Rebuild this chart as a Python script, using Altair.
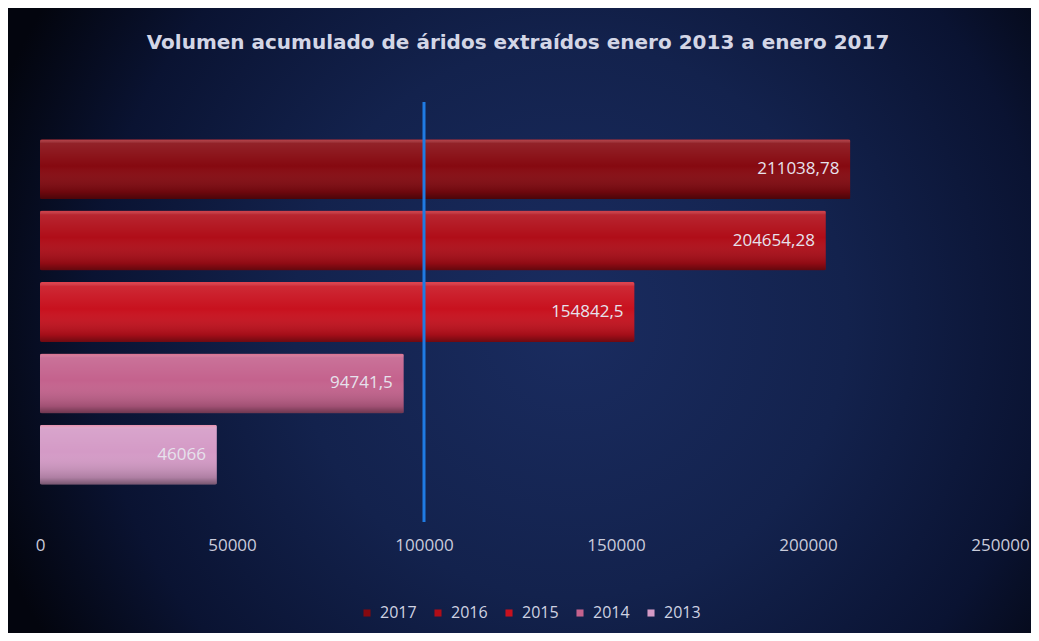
import altair as alt
import pandas as pd

# ---- data ----
YEARS = ["2017", "2016", "2015", "2014", "2013"]
VOLUMES = [211038.78, 204654.28, 154842.5, 94741.5, 46066]
BAR_COLORS = ["#860910", "#b00d18", "#c8111e", "#c4628d", "#d49ac6"]
X_TICKS = [0, 50000, 100000, 150000, 200000, 250000]
REF_LINE = [100000]
TITLE = "Volumen acumulado de áridos extraídos enero 2013 a enero 2017"

labels = [str(v).replace(".", ",") for v in VOLUMES]
df = pd.DataFrame({"year": YEARS, "vol": VOLUMES, "label": labels})

W, H = 960, 420
PAD = {"left": 32, "top": 94, "right": 31, "bottom": 111}

bg = alt.Chart(alt.Data(values=[{}])).mark_rect(
    fill=alt.RadialGradient(
        gradient="radial", x1=0.55, y1=0.5, r1=0, x2=0.55, y2=0.5, r2=0.6,
        stops=[
            alt.GradientStop(offset=0, color="#1a2c60"),
            alt.GradientStop(offset=0.45, color="#13224d"),
            alt.GradientStop(offset=0.78, color="#0a1332"),
            alt.GradientStop(offset=1, color="#03050e"),
        ],
    )
).encode(
    x=alt.value(-PAD["left"]), x2=alt.value(W + PAD["right"]),
    y=alt.value(-PAD["top"]), y2=alt.value(H + PAD["bottom"]),
)

title = alt.Chart(alt.Data(values=[{"t": TITLE}])).mark_text(
    font="DejaVu Sans", fontSize=20, fontWeight="bold", color="#d3d6e6",
    align="center", baseline="alphabetic",
).encode(text="t:N", x=alt.value(W / 2 - 2), y=alt.value(-53))

y_enc = alt.Y("year:N", sort=YEARS, axis=None,
              scale=alt.Scale(paddingInner=0.16, paddingOuter=0.52))
x_enc = alt.X("vol:Q", title=None,
              scale=alt.Scale(domain=[0, 250000], nice=False),
              axis=alt.Axis(values=X_TICKS, format="d", grid=False, domain=False,
                            ticks=False, labelColor="#c9cbdb", labelFontSize=17,
                            labelFont="Open Sans", labelPadding=15, labelFlush=False,
                            zindex=2))

bars = alt.Chart(df).mark_bar(cornerRadius=2).encode(
    x=x_enc, y=y_enc,
    color=alt.Color("year:N", sort=YEARS,
                    scale=alt.Scale(domain=YEARS, range=BAR_COLORS),
                    legend=alt.Legend(title=None, orient="none", direction="horizontal",
                                      legendX=319, legendY=503,
                                      symbolType="square", symbolSize=50,
                                      labelColor="#cfd2e2", labelFontSize=16,
                                      labelFont="Open Sans", columnPadding=13,
                                      labelOffset=5, zindex=2)),
)

gloss = alt.Chart(df).mark_bar(
    cornerRadius=2,
    fill=alt.LinearGradient(
        gradient="linear", x1=0, y1=0, x2=0, y2=1,
        stops=[
            alt.GradientStop(offset=0, color="rgba(255,120,130,0.45)"),
            alt.GradientStop(offset=0.07, color="rgba(255,255,255,0.10)"),
            alt.GradientStop(offset=0.45, color="rgba(255,255,255,0)"),
            alt.GradientStop(offset=0.88, color="rgba(0,0,0,0.18)"),
            alt.GradientStop(offset=1, color="rgba(0,0,0,0.45)"),
        ],
    ),
).encode(x="vol:Q", y=alt.Y("year:N", sort=YEARS))

text = alt.Chart(df).mark_text(
    align="right", baseline="middle", dx=-11, fontSize=17, font="Open Sans",
    color="#e6e2ec",
).encode(x="vol:Q", y=alt.Y("year:N", sort=YEARS), text="label:N")

rule = alt.Chart(pd.DataFrame({"ref": REF_LINE})).mark_rule(
    color="#1f7be3", strokeWidth=3
).encode(x="ref:Q")

chart = alt.layer(bg, title, bars, gloss, rule, text).properties(
    width=W, height=H,
    padding=PAD,
    autosize=alt.AutoSizeParams(type="none"),
    background="#050817",
).configure_view(stroke=None)

chart.save("out.html", embed_options={"renderer": "svg", "actions": False})
